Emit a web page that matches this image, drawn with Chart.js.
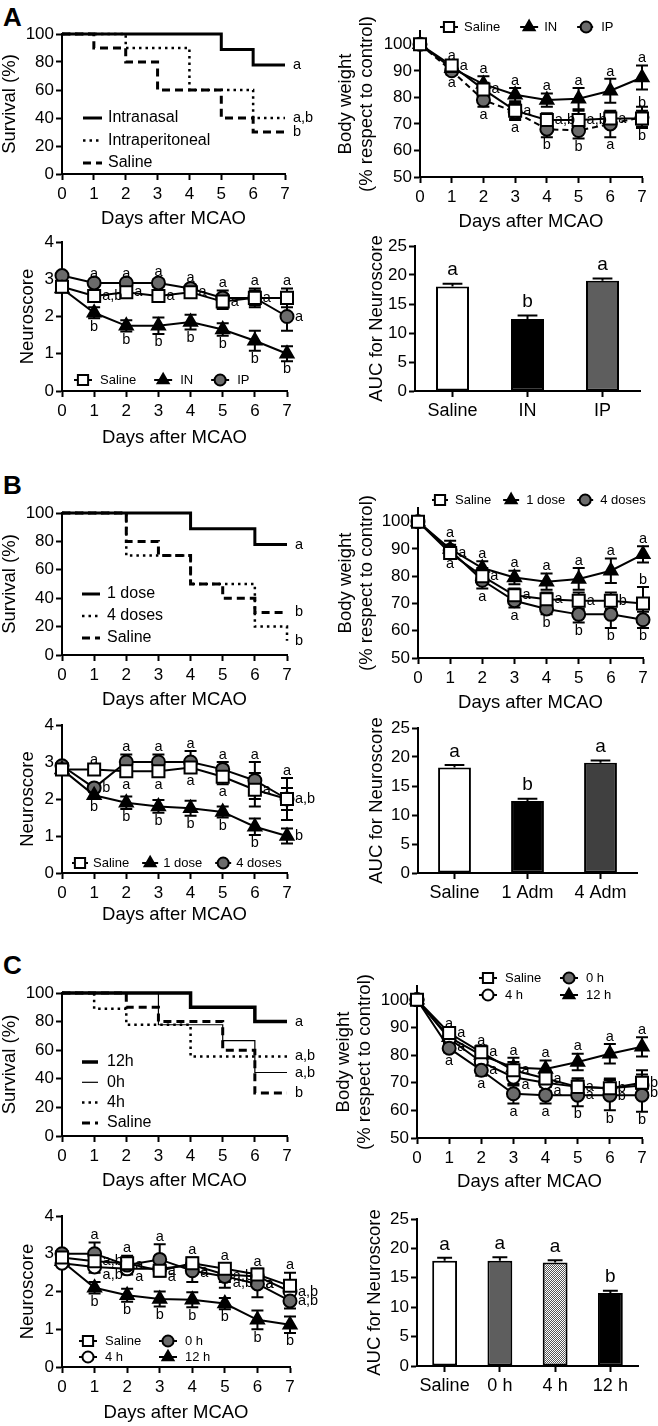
<!DOCTYPE html>
<html>
<head>
<meta charset="utf-8">
<script src="https://cdn.jsdelivr.net/npm/chart.js@4.4.1/dist/chart.umd.min.js"></script>
<style>
  body { margin: 0; background: #fff; width: 658px; height: 1426px; position: relative; overflow: hidden; font-family: "Liberation Sans", Arial, sans-serif; }
  canvas { position: absolute; }
  .tag { position: absolute; left: 3px; font-weight: bold; font-size: 26px; line-height: 1; }
</style>
</head>
<body>
<div class="tag" style="top:4px">A</div>
<div class="tag" style="top:472px">B</div>
<div class="tag" style="top:952px">C</div>
<script>
const FONT = '"Liberation Sans", Arial, sans-serif';
Chart.defaults.font.family = FONT;
Chart.defaults.color = '#000';

const days = [0, 1, 2, 3, 4, 5, 6, 7];
const survTicks = [0, 20, 40, 60, 80, 100];
const bwTicks = [50, 60, 70, 80, 90, 100];
const nsTicks = [0, 1, 2, 3, 4];
const aucTicks = [0, 5, 10, 15, 20, 25];

// --- A ---
const survA_in = [100, 100, 100, 100, 100, 88.9, 77.8, 77.8];
const survA_ip = [100, 100, 90, 90, 60, 60, 40, 40];
const survA_sal = [100, 90, 80, 60, 60, 40, 30, 30];

const bwA_sal = [100, 92, 83, 75, 71.5, 71.5, 72, 72];
const bwA_salErr = [0, 2, 2.5, 3, 2.5, 3.5, 2.5, 3];
const bwA_in = [100, 91, 85, 81, 79, 79.5, 82.5, 87.5];
const bwA_inErr = [0, 2, 3, 2.5, 2.5, 4, 4.5, 4.5];
const bwA_ip = [100, 90, 79, 74.5, 68, 67.5, 70, 72.5];
const bwA_ipErr = [0, 1.5, 2.5, 3, 3, 3, 5, 4];

const nsA_sal = [2.8, 2.55, 2.65, 2.55, 2.65, 2.4, 2.5, 2.5];
const nsA_salErr = [0.1, 0.15, 0.1, 0.12, 0.1, 0.2, 0.2, 0.25];
const nsA_in = [2.75, 2.1, 1.75, 1.75, 1.85, 1.65, 1.35, 1.0];
const nsA_inErr = [0.1, 0.15, 0.15, 0.22, 0.2, 0.17, 0.27, 0.2];
const nsA_ip = [3.1, 2.9, 2.9, 2.9, 2.75, 2.5, 2.5, 2.0];
const nsA_ipErr = [0, 0.05, 0.05, 0.1, 0.1, 0.2, 0.25, 0.38];

const aucA_labels = ['Saline', 'IN', 'IP'];
const aucA = [18, 12.4, 19];
const aucA_err = [0.5, 0.6, 0.4];

// --- B ---
const survB_1 = [100, 100, 100, 100, 88.9, 88.9, 77.8, 77.8];
const survB_4 = [100, 100, 70, 70, 50, 50, 20, 10];
const survB_sal = [100, 100, 80, 70, 50, 40, 30, 30];

const bwB_sal = [100, 88.5, 80, 73, 71.5, 71, 71, 70];
const bwB_salErr = [0, 2, 3, 2.5, 2.5, 3, 3, 6];
const bwB_1 = [100, 90, 83, 79.5, 78, 79, 82, 88];
const bwB_1Err = [0, 3, 2.5, 2.5, 3, 4, 4.5, 3];
const bwB_4 = [100, 89.5, 78.5, 71, 68, 66, 66, 64];
const bwB_4Err = [0, 2, 3, 2.5, 2, 3, 5, 3];

const nsB_sal = [2.8, 2.8, 2.75, 2.75, 2.85, 2.6, 2.25, 2.0];
const nsB_salErr = [0.1, 0.05, 0.15, 0.15, 0.15, 0.2, 0.45, 0.3];
const nsB_1 = [2.8, 2.1, 1.9, 1.8, 1.75, 1.65, 1.25, 1.0];
const nsB_1Err = [0.1, 0.1, 0.17, 0.17, 0.2, 0.15, 0.22, 0.2];
const nsB_4 = [2.9, 2.3, 3.0, 3.0, 3.0, 2.8, 2.5, 2.0];
const nsB_4Err = [0, 0.1, 0.2, 0.2, 0.3, 0.2, 0.5, 0.57];

const aucB_labels = ['Saline', '1 Adm', '4 Adm'];
const aucB = [18.2, 12.4, 19.0];
const aucB_err = [0.4, 0.4, 0.4];

// --- C ---
const survC_12 = [100, 100, 100, 100, 90, 90, 80, 80];
const survC_0 = [100, 100, 100, 77.8, 77.8, 66.7, 44.4, 44.4];
const survC_4 = [100, 88.9, 77.8, 77.8, 55.6, 55.6, 55.6, 55.6];
const survC_sal = [100, 100, 90, 80, 80, 60, 30, 30];

const bwC_sal = [100, 88, 81, 74.5, 71.5, 68.5, 68, 70];
const bwC_salErr = [0, 2, 2.5, 3, 3, 3, 3, 4.5];
const bwC_0 = [100, 82.5, 74.5, 66, 65.5, 65.5, 65.5, 65.5];
const bwC_0Err = [0, 1.5, 2, 3.5, 3, 4, 5.5, 6];
const bwC_4 = [100, 86, 77.5, 72, 70, 68.5, 68, 69];
const bwC_4Err = [0, 2, 2.5, 3, 3, 3, 3.5, 4];
const bwC_12 = [100, 86.5, 80, 75.5, 75, 77.5, 80.5, 83];
const bwC_12Err = [0, 2, 2.5, 3.5, 3, 3, 3.5, 3.5];

const nsC_sal = [2.9, 2.8, 2.75, 2.55, 2.75, 2.6, 2.45, 2.15];
const nsC_salErr = [0.1, 0.15, 0.2, 0.15, 0.15, 0.15, 0.15, 0.35];
const nsC_0 = [3.0, 3.0, 2.7, 2.85, 2.55, 2.4, 2.2, 1.75];
const nsC_0Err = [0, 0.3, 0.2, 0.4, 0.3, 0.3, 0.35, 0.2];
const nsC_4 = [2.75, 2.65, 2.6, 2.6, 2.7, 2.45, 2.4, 2.0];
const nsC_4Err = [0.05, 0.15, 0.15, 0.15, 0.15, 0.2, 0.2, 0.25];
const nsC_12 = [2.8, 2.1, 1.9, 1.8, 1.78, 1.68, 1.25, 1.12];
const nsC_12Err = [0.05, 0.15, 0.17, 0.2, 0.2, 0.15, 0.25, 0.22];

const aucC_labels = ['Saline', '0 h', '4 h', '12 h'];
const aucC = [17.9, 17.9, 17.6, 12.4];
const aucC_err = [0.5, 0.6, 0.4, 0.4];

// --- plugins ---
function drawWhiskers(chart, bars) {
  const ctx = chart.ctx, ys = chart.scales.y;
  chart.data.datasets.forEach((ds, i) => {
    if (!ds.err) return;
    const meta = chart.getDatasetMeta(i);
    if ((meta.type === 'bar') !== bars) return;
    meta.data.forEach((el, j) => {
      const e = ds.err[j];
      if (!e) return;
      const v = bars ? ds.data[j] : ds.data[j].y;
      const top = ys.getPixelForValue(v + e);
      const bot = bars ? el.y : ys.getPixelForValue(v - e);
      const cw = bars ? el.width * 0.3 : 6;
      ctx.save();
      ctx.strokeStyle = '#000';
      ctx.lineWidth = 2;
      ctx.beginPath();
      ctx.moveTo(el.x, top); ctx.lineTo(el.x, bot);
      ctx.moveTo(el.x - cw, top); ctx.lineTo(el.x + cw, top);
      if (!bars) { ctx.moveTo(el.x - cw, bot); ctx.lineTo(el.x + cw, bot); }
      ctx.stroke();
      ctx.restore();
    });
  });
}

const whiskers = {
  id: 'whiskers',
  beforeDatasetsDraw(chart) { drawWhiskers(chart, false); },
  afterDatasetsDraw(chart) { drawWhiskers(chart, true); }
};

const letters = {
  id: 'letters',
  afterDatasetsDraw(chart, args, o) {
    const ctx = chart.ctx, ys = chart.scales.y;
    const size = o.size || 14.5;
    ctx.save();
    ctx.fillStyle = '#000';
    chart.data.datasets.forEach((ds, i) => {
      const meta = chart.getDatasetMeta(i);
      if (ds.tag) {
        const el = meta.data[meta.data.length - 1];
        ctx.font = '14.5px ' + FONT;
        ctx.textAlign = 'left'; ctx.textBaseline = 'middle';
        ctx.fillText(ds.tag, el.x + 8, el.y);
      }
      if (!ds.letters) return;
      const bar = meta.type === 'bar';
      ctx.font = size + 'px ' + FONT;
      meta.data.forEach((el, j) => {
        const t = ds.letters[j];
        if (!t) return;
        const p = Array.isArray(ds.pos) ? ds.pos[j] : ds.pos;
        const v = bar ? ds.data[j] : ds.data[j].y;
        const e = ds.err ? (ds.err[j] || 0) : 0;
        if (p === 'u') {
          ctx.textAlign = 'center'; ctx.textBaseline = 'bottom';
          ctx.fillText(t, el.x, ys.getPixelForValue(v + e) - (bar ? 4 : 0));
        } else if (p === 'd') {
          ctx.textAlign = 'center'; ctx.textBaseline = 'top';
          ctx.fillText(t, el.x, ys.getPixelForValue(v - e) + 1);
        } else {
          ctx.textAlign = 'left'; ctx.textBaseline = 'middle';
          ctx.fillText(t, el.x + 8, el.y + (p === 'R' ? 8 : 0));
        }
      });
    });
    ctx.restore();
  }
};

const key = {
  id: 'key',
  afterDraw(chart, args, o) {
    if (!o || !o.size) return;
    const ctx = chart.ctx, a = chart.chartArea;
    ctx.save();
    ctx.font = o.size + 'px ' + FONT;
    ctx.textBaseline = 'middle';
    ctx.textAlign = 'left';
    let x = a.left + o.x, y = a.top + o.y;
    chart.data.datasets.forEach((ds, i) => {
      if (o.colW) {
        x = a.left + o.x + (i % o.cols) * o.colW;
        y = a.top + o.y + Math.floor(i / o.cols) * o.rowH;
      } else if (o.rowH) {
        y = a.top + o.y + i * o.rowH;
      }
      ctx.strokeStyle = '#000';
      ctx.lineWidth = ds.borderWidth;
      ctx.setLineDash(ds.borderDash || []);
      ctx.beginPath(); ctx.moveTo(x, y); ctx.lineTo(x + o.line, y); ctx.stroke();
      ctx.setLineDash([]);
      if (ds.pointRadius) {
        ctx.fillStyle = ds.backgroundColor;
        ctx.lineWidth = ds.pointBorderWidth;
        Chart.helpers.drawPoint(ctx, { pointStyle: ds.pointStyle, radius: ds.pointRadius * 0.85, borderWidth: ds.pointBorderWidth, rotation: 0 }, x + o.line / 2, y);
      }
      ctx.fillStyle = '#000';
      ctx.fillText(ds.label, x + o.line + o.gap, y);
      if (!o.colW && !o.rowH) x += o.line + o.gap + ctx.measureText(ds.label).width + o.sep;
    });
    ctx.restore();
  }
};

// --- builders ---
function axis(o) {
  const ax = {
    type: o.type || 'linear',
    afterFit: s => { if (s.isHorizontal()) s.height = o.size; else s.width = o.size; },
    grid: { drawOnChartArea: false, drawTicks: true, tickLength: 6, tickWidth: 2, tickColor: '#000', offset: false },
    border: { display: true, color: '#000', width: 2 },
    ticks: { color: '#000', font: { size: o.fs || 17 }, padding: o.tp, autoSkip: false, maxRotation: 0 },
    title: { display: true, text: o.title, color: '#000', font: { size: 18.5, lineHeight: 1.12 }, padding: { top: o.pad || 0, bottom: 0 } }
  };
  if (o.min !== undefined) { ax.min = o.min; ax.max = o.max; }
  if (o.ticks) ax.afterBuildTicks = s => { s.ticks = o.ticks.map(v => ({ value: v })); };
  return ax;
}

function plot(box, type, data, opt) {
  const cv = document.createElement('canvas');
  const w = box.r - box.l + box.yW + box.pR, h = box.b - box.t + box.pT + box.xH;
  cv.width = w; cv.height = h;
  cv.style.left = (box.l - box.yW) + 'px';
  cv.style.top = (box.t - box.pT) + 'px';
  cv.style.width = w + 'px'; cv.style.height = h + 'px';
  document.body.appendChild(cv);
  return new Chart(cv, {
    type, data,
    plugins: [whiskers, letters, key],
    options: {
      responsive: false, animation: false,
      layout: { padding: { left: 0, top: box.pT, right: box.pR, bottom: 0 } },
      plugins: { legend: { display: false }, tooltip: { enabled: false }, key: opt.key || {}, letters: opt.letters || {} },
      scales: { x: opt.x, y: opt.y }
    }
  });
}

function km(label, vals, width, dash, tag) {
  return { label, data: days.map((d, i) => ({ x: d, y: vals[i] })), stepped: 'before', borderColor: '#000', borderWidth: width, borderDash: dash, pointRadius: 0, tag, fill: false, clip: false };
}

const SQ = { pointStyle: 'rect', pointRadius: 8.5, backgroundColor: '#fff' };
const TRI = { pointStyle: 'triangle', pointRadius: 7.5, backgroundColor: '#000' };
const DOT = { pointStyle: 'circle', pointRadius: 6.5, backgroundColor: '#6b6b6b' };
const RING = { pointStyle: 'circle', pointRadius: 6.5, backgroundColor: '#fff' };

function line(label, vals, err, mark, lettersArr, pos, dash) {
  return Object.assign({
    label, data: days.map((d, i) => ({ x: d, y: vals[i] })), err, letters: lettersArr, pos,
    borderColor: '#000', borderWidth: 2, borderDash: dash || [], pointBorderColor: '#000', pointBorderWidth: 2,
    fill: false, clip: false, tension: 0
  }, mark);
}

function bars(labels, vals, err, colors, lettersArr, pct) {
  return {
    labels,
    datasets: [{ data: vals, err, letters: lettersArr, pos: 'u', backgroundColor: colors, borderColor: '#000', borderWidth: 2, borderSkipped: false, barPercentage: pct, categoryPercentage: 1 }]
  };
}

function dayAxis(size) { return axis({ min: 0, max: 7, ticks: days, title: 'Days after MCAO', size, tp: 4 }); }

function hatch() {
  const c = document.createElement('canvas');
  c.width = 4; c.height = 4;
  const g = c.getContext('2d');
  g.fillStyle = '#fff'; g.fillRect(0, 0, 4, 4);
  g.fillStyle = '#555';
  [[0, 0], [2, 0], [1, 1], [3, 1], [0, 2], [2, 2], [1, 3], [3, 3]].forEach(p => g.fillRect(p[0], p[1], 1, 1));
  return g.createPattern(c, 'repeat');
}

const L7 = (s) => ['', s, s, s, s, s, s, s];

// ===== A =====
plot({ l: 62, r: 285, t: 34, b: 174, yW: 62, pT: 28, xH: 55, pR: 40 }, 'line', {
  datasets: [
    km('Intranasal', survA_in, 3, [], 'a'),
    km('Intraperitoneal', survA_ip, 2.5, [2.5, 4], 'a,b'),
    km('Saline', survA_sal, 3, [8, 5], 'b')
  ]
}, {
  x: dayAxis(55),
  y: axis({ min: 0, max: 100, ticks: survTicks, title: 'Survival (%)', size: 62, tp: 2, pad: 0 }),
  key: { x: 21, y: 84, rowH: 22.5, line: 19, gap: 6, size: 16 }
});

plot({ l: 420, r: 642, t: 31, b: 177, yW: 90, pT: 22, xH: 55, pR: 14 }, 'line', {
  datasets: [
    line('Saline', bwA_sal, bwA_salErr, SQ, ['', 'a', 'a', 'a', 'a,b', 'a,b', 'a', 'b'], ['', 'r', 'r', 'r', 'r', 'r', 'r', 'u']),
    line('IN', bwA_in, bwA_inErr, TRI, L7('a'), 'u'),
    line('IP', bwA_ip, bwA_ipErr, DOT, ['', 'a', 'a', 'a', 'b', 'b', 'a', 'b'], 'd', [6, 4])
  ]
}, {
  x: dayAxis(55),
  y: axis({ min: 50, max: 105, ticks: bwTicks, title: ['Body weight', '(% respect to control)'], size: 90, tp: 2, pad: 6 }),
  key: { x: 20, y: -4, line: 18, gap: 6, sep: 20, size: 13 }
});

plot({ l: 62, r: 287, t: 242, b: 391, yW: 62, pT: 16, xH: 57, pR: 30 }, 'line', {
  datasets: [
    line('Saline', nsA_sal, nsA_salErr, SQ, ['', 'a,b', 'a', 'a', 'a', 'a', 'a', 'a'], ['', 'r', 'r', 'r', 'r', 'r', 'r', 'u']),
    line('IN', nsA_in, nsA_inErr, TRI, L7('b'), 'd'),
    line('IP', nsA_ip, nsA_ipErr, DOT, L7('a'), ['', 'u', 'u', 'u', 'u', 'u', 'u', 'r'])
  ]
}, {
  x: dayAxis(57),
  y: axis({ min: 0, max: 4, ticks: nsTicks, title: 'Neuroscore', size: 62, tp: 2, pad: 18 }),
  key: { x: 12, y: 138, line: 18, gap: 8, sep: 18, size: 13 }
});

plot({ l: 415, r: 640, t: 246, b: 391, yW: 85, pT: 18, xH: 40, pR: 12 }, 'bar',
  bars(aucA_labels, aucA, aucA_err, ['#fff', '#000', '#5e5e5e'], ['a', 'b', 'a'], 0.44), {
  x: axis({ type: 'category', title: '', size: 40, tp: 3, fs: 18 }),
  y: axis({ min: 0, max: 25, ticks: aucTicks, title: 'AUC for Neuroscore', size: 85, tp: 2, pad: 37 }),
  letters: { size: 19 }
});

// ===== B =====
plot({ l: 62, r: 287, t: 513, b: 655, yW: 62, pT: 25, xH: 55, pR: 35 }, 'line', {
  datasets: [
    km('1 dose', survB_1, 3, [], 'a'),
    km('4 doses', survB_4, 2.5, [2.5, 4], 'b'),
    km('Saline', survB_sal, 3, [8, 5], 'b')
  ]
}, {
  x: dayAxis(55),
  y: axis({ min: 0, max: 100, ticks: survTicks, title: 'Survival (%)', size: 62, tp: 2, pad: 0 }),
  key: { x: 20, y: 81, rowH: 22, line: 18, gap: 7, size: 16 }
});

plot({ l: 418, r: 643, t: 508, b: 658, yW: 88, pT: 22, xH: 55, pR: 12 }, 'line', {
  datasets: [
    line('Saline', bwB_sal, bwB_salErr, SQ, ['', 'a', 'a', 'a', 'a', 'a', 'b', 'b'], ['', 'r', 'r', 'r', 'r', 'r', 'r', 'u']),
    line('1 dose', bwB_1, bwB_1Err, TRI, L7('a'), 'u'),
    line('4 doses', bwB_4, bwB_4Err, DOT, ['', 'a', 'a', 'a', 'b', 'b', 'b', 'b'], 'd')
  ]
}, {
  x: dayAxis(55),
  y: axis({ min: 50, max: 105, ticks: bwTicks, title: ['Body weight', '(% respect to control)'], size: 88, tp: 2, pad: 6 }),
  key: { x: 14, y: -8, line: 16, gap: 7, sep: 12, size: 13 }
});

plot({ l: 62, r: 287, t: 725, b: 873, yW: 62, pT: 16, xH: 52, pR: 40 }, 'line', {
  datasets: [
    line('Saline', nsB_sal, nsB_salErr, SQ, ['', 'a', 'a', 'a', 'a', 'a', 'a', 'a,b'], ['', 'u', 'd', 'd', 'd', 'd', 'r', 'r']),
    line('1 dose', nsB_1, nsB_1Err, TRI, L7('b'), ['', 'd', 'd', 'd', 'd', 'd', 'd', 'r']),
    line('4 doses', nsB_4, nsB_4Err, DOT, ['', 'b', 'a', 'a', 'a', 'a', 'a', 'a'], ['', 'r', 'u', 'u', 'u', 'u', 'u', 'u'])
  ]
}, {
  x: dayAxis(52),
  y: axis({ min: 0, max: 4, ticks: nsTicks, title: 'Neuroscore', size: 62, tp: 2, pad: 18 }),
  key: { x: 10, y: 138, line: 16, gap: 5, sep: 13, size: 13 }
});

plot({ l: 418, r: 637, t: 728, b: 873, yW: 88, pT: 18, xH: 40, pR: 12 }, 'bar',
  bars(aucB_labels, aucB, aucB_err, ['#fff', '#000', '#404040'], ['a', 'b', 'a'], 0.45), {
  x: axis({ type: 'category', title: '', size: 40, tp: 3, fs: 18 }),
  y: axis({ min: 0, max: 25, ticks: aucTicks, title: 'AUC for Neuroscore', size: 88, tp: 2, pad: 37 }),
  letters: { size: 19 }
});

// ===== C =====
plot({ l: 62, r: 287, t: 993, b: 1136, yW: 62, pT: 25, xH: 55, pR: 40 }, 'line', {
  datasets: [
    km('12h', survC_12, 3.5, [], 'a'),
    km('0h', survC_0, 1.2, [], 'a,b'),
    km('4h', survC_4, 2.5, [2.5, 4], 'a,b'),
    km('Saline', survC_sal, 3, [8, 5], 'b')
  ]
}, {
  x: dayAxis(55),
  y: axis({ min: 0, max: 100, ticks: survTicks, title: 'Survival (%)', size: 62, tp: 2, pad: 0 }),
  key: { x: 20, y: 69, rowH: 20.3, line: 16, gap: 9, size: 16 }
});

plot({ l: 417, r: 642, t: 986, b: 1138, yW: 87, pT: 22, xH: 54, pR: 16 }, 'line', {
  datasets: [
    line('Saline', bwC_sal, bwC_salErr, SQ, ['', 'a', 'a', 'a', 'a', 'a', 'b', 'b'], 'r'),
    line('0 h', bwC_0, bwC_0Err, DOT, ['', 'a', 'a', 'a', 'a', 'b', 'b', 'b'], 'd'),
    line('4 h', bwC_4, bwC_4Err, RING, ['', 'a', 'a', 'a', 'a', 'a', 'b', 'b'], 'R'),
    line('12 h', bwC_12, bwC_12Err, TRI, L7('a'), 'u')
  ]
}, {
  x: dayAxis(54),
  y: axis({ min: 50, max: 105, ticks: bwTicks, title: ['Body weight', '(% respect to control)'], size: 87, tp: 2, pad: 4 }),
  key: { x: 62, y: -8, line: 18, gap: 8, colW: 81, cols: 2, rowH: 17, size: 13 }
});

plot({ l: 62, r: 290, t: 1216, b: 1367, yW: 62, pT: 16, xH: 56, pR: 40 }, 'line', {
  datasets: [
    line('Saline', nsC_sal, nsC_salErr, SQ, ['', 'a,b', 'a', 'a', 'a', 'a', 'a', 'a'], ['', 'r', 'u', 'r', 'u', 'u', 'u', 'u']),
    line('0 h', nsC_0, nsC_0Err, DOT, ['', 'a', 'a', 'a', 'a', 'a,b', 'a', 'a,b'], ['', 'u', 'r', 'u', 'r', 'r', 'r', 'r']),
    line('4 h', nsC_4, nsC_4Err, RING, ['', 'a,b', 'a', 'a', 'a', 'a,b', 'a', 'a,b'], ['', 'R', 'R', 'R', 'R', 'R', 'R', 'r']),
    line('12 h', nsC_12, nsC_12Err, TRI, L7('b'), 'd')
  ]
}, {
  x: dayAxis(56),
  y: axis({ min: 0, max: 4, ticks: nsTicks, title: 'Neuroscore', size: 62, tp: 2, pad: 18 }),
  key: { x: 17, y: 125, line: 18, gap: 8, colW: 80, cols: 2, rowH: 16, size: 13 }
});

plot({ l: 417, r: 638, t: 1219, b: 1366, yW: 87, pT: 18, xH: 40, pR: 12 }, 'bar',
  bars(aucC_labels, aucC, aucC_err, ['#fff', '#5e5e5e', hatch(), '#000'], ['a', 'a', 'a', 'b'], 0.45), {
  x: axis({ type: 'category', title: '', size: 40, tp: 3, fs: 18 }),
  y: axis({ min: 0, max: 25, ticks: aucTicks, title: 'AUC for Neuroscore', size: 87, tp: 2, pad: 35 }),
  letters: { size: 19 }
});
</script>
</body>
</html>
